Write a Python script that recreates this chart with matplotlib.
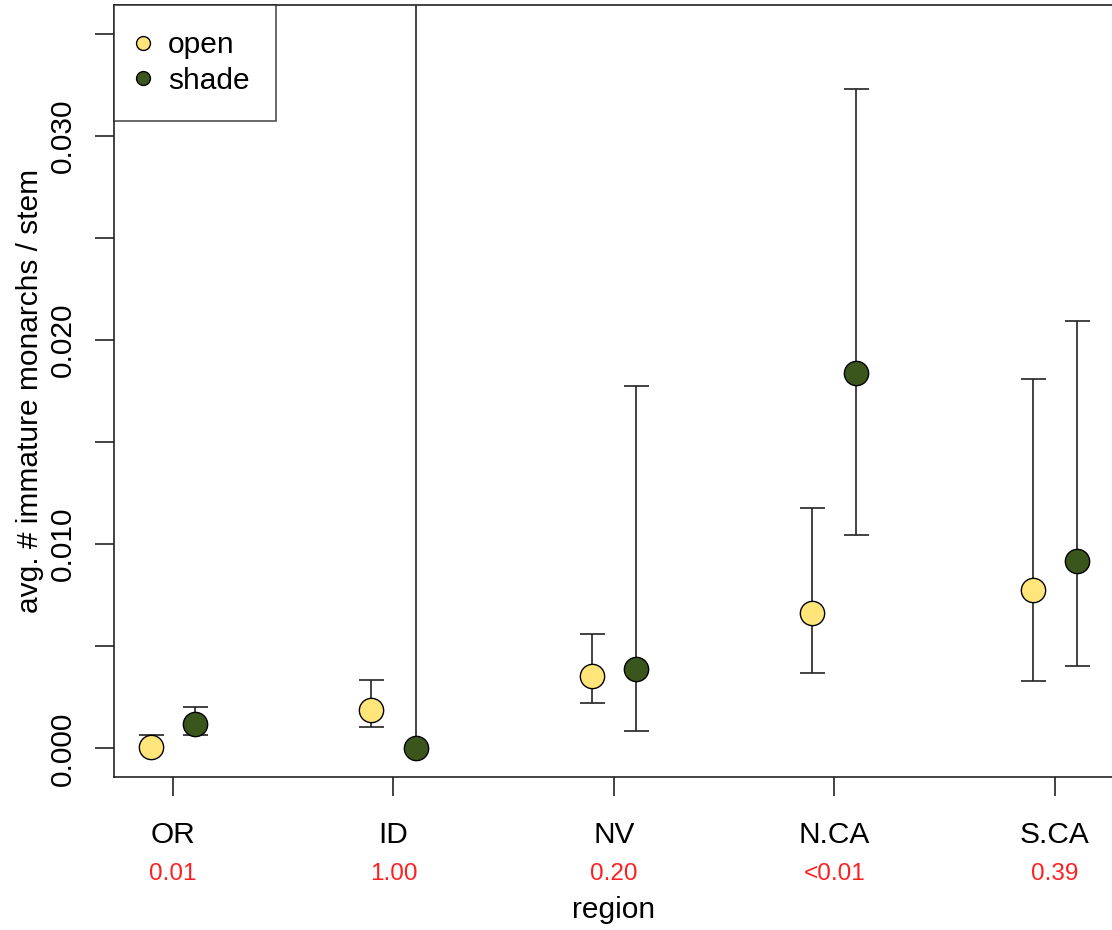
import numpy as np
import matplotlib
matplotlib.use("Agg")
import matplotlib.pyplot as plt
from matplotlib.lines import Line2D

# ===== data =====
regions = ["OR", "ID", "NV", "N.CA", "S.CA"]
p_values = ["0.01", "1.00", "0.20", "<0.01", "0.39"]

open_mean = [0.00006, 0.00190, 0.00353, 0.00662, 0.00775]
open_low = [0.00000, 0.00104, 0.00222, 0.00371, 0.00330]
open_high = [0.00064, 0.00337, 0.00559, 0.01176, 0.01809]

shade_mean = [0.00121, 0.00000, 0.00390, 0.01838, 0.00917]
shade_low = [0.00067, 0.00000, 0.00085, 0.01044, 0.00402]
shade_high = [0.00202, 0.04000, 0.01775, 0.03230, 0.02093]

y_ticks = [0.000, 0.005, 0.010, 0.015, 0.020, 0.025, 0.030, 0.035]
y_tick_labels = ["0.000", "", "0.010", "", "0.020", "", "0.030", ""]

OPEN_COL = "#FFE57A"
SHADE_COL = "#3A561D"

plt.rcParams["font.family"] = ["Liberation Sans", "DejaVu Sans"]

fig = plt.figure(figsize=(11.12, 9.3), dpi=100)
W, H = 1112, 930
ax_left, ax_right, ax_top, ax_bottom = 113.9, 1114.0, 5.0, 777.0
ax = fig.add_axes([ax_left / W, 1 - ax_bottom / H,
                   (ax_right - ax_left) / W, (ax_bottom - ax_top) / H])

x = np.arange(1, len(regions) + 1)
off = 0.1


def draw_group(xs, mean, low, high, col, label):
    mean = np.array(mean)
    err = [mean - np.array(low), np.array(high) - mean]
    ax.errorbar(xs, mean, yerr=err, fmt="none", ecolor="#222222",
                elinewidth=1.2, capsize=9, capthick=1.2, zorder=2)
    ax.plot(xs, mean, "o", ms=17.5, mfc=col, mec="black", mew=1.0,
            ls="none", zorder=3, label=label)


draw_group(x - off, open_mean, open_low, open_high, OPEN_COL, "open")
draw_group(x + off, shade_mean, shade_low, shade_high, SHADE_COL, "shade")

ax.set_xlim(0.732, 5.268)
ax.set_ylim(-0.0014, 0.0364)

for sp in ax.spines.values():
    sp.set_linewidth(1.2)
    sp.set_color("#222222")

ax.set_xticks(x)
ax.set_xticklabels(regions)
ax.set_yticks(y_ticks)
ax.set_yticklabels(y_tick_labels)
ax.tick_params(axis="both", direction="out", length=14, width=1.2,
               color="#222222", labelsize=21.5)
ax.tick_params(axis="x", pad=18)
ax.tick_params(axis="y", pad=12.5)
plt.setp(ax.get_yticklabels(), rotation=90, va="center", ha="right")

# p-values under the region names
for xi, p in zip(x, p_values):
    ax.annotate(p, xy=(xi, 0), xycoords=("data", "axes fraction"),
                xytext=(0, -74), textcoords="offset points",
                ha="center", va="baseline", color="#FF1F1F", fontsize=17.5)

fig.text(((ax_left + ax_right) / 2) / W, 1 - 918 / H, "region",
         ha="center", va="baseline", fontsize=21.5)
fig.text(30 / W, 1 - ((ax_top + ax_bottom) / 2) / H,
         "avg. # immature monarchs / stem", rotation=90,
         ha="center", va="center", fontsize=21.5)

handles = [Line2D([], [], marker="o", ls="none", ms=10, mfc=OPEN_COL, mec="black", mew=1.0),
           Line2D([], [], marker="o", ls="none", ms=10, mfc=SHADE_COL, mec="black", mew=1.0)]
leg = ax.legend(handles, ["open", "shade"], loc="upper left", bbox_to_anchor=(0, 1),
                borderaxespad=0, fontsize=21.5, frameon=True, fancybox=False,
                borderpad=0.88, labelspacing=0.25, handlelength=0.2,
                handletextpad=0.72)
leg.get_frame().set_edgecolor("#222222")
leg.get_frame().set_linewidth(1.2)

fig.savefig("out.png", dpi=100)
